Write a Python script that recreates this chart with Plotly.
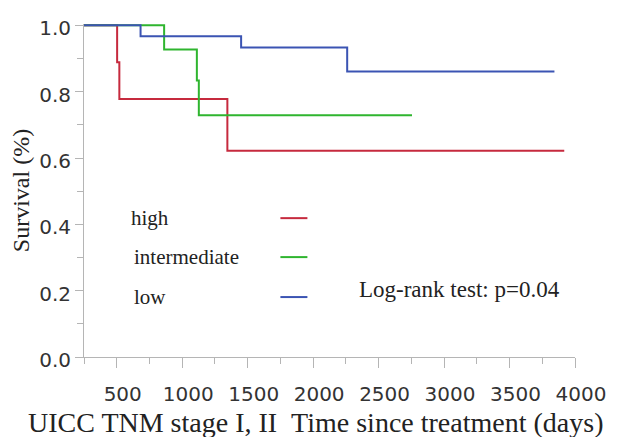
import plotly.graph_objects as go

# Kaplan-Meier step data
groups = ["high", "intermediate", "low"]
high_t = [0, 503, 520, 1345, 3918]
high_s = [1.0, 0.889, 0.778, 0.622, 0.622]
inter_t = [0, 862, 1112, 1127, 2755]
inter_s = [1.0, 0.927, 0.834, 0.729, 0.729]
low_t = [0, 682, 1450, 2260, 3843]
low_s = [1.0, 0.967, 0.933, 0.861, 0.861]
x_ticks = [500, 1000, 1500, 2000, 2500, 3000, 3500, 4000]
y_ticks = [0.0, 0.2, 0.4, 0.6, 0.8, 1.0]
colors = ["#c62a3e", "#2fb52f", "#3b54b3"]

series = [(high_t, high_s), (inter_t, inter_s), (low_t, low_s)]

fig = go.Figure()
for name, (t, s), c in zip(groups, series, colors):
    fig.add_trace(go.Scatter(x=t, y=s, mode="lines", name=name,
                             line=dict(color=c, width=2, shape="hv"),
                             showlegend=False))

serif = "Liberation Serif"
sans = "DejaVu Sans"

# custom legend: label on the left, line sample on the right
legend_y = [0.417, 0.300, 0.180]
legend_x = [0.092, 0.098, 0.098]
for name, c, ly, lx in zip(groups, colors, legend_y, legend_x):
    fig.add_annotation(x=lx, y=ly, xref="paper", yref="paper", text=name,
                       showarrow=False, xanchor="left", yanchor="middle",
                       font=dict(family=serif, size=21, color="#222"))
    fig.add_shape(type="line", xref="paper", yref="paper",
                  x0=0.40, x1=0.455, y0=ly, y1=ly,
                  line=dict(color=c, width=2))

fig.add_annotation(x=0.556, y=0.204, xref="paper", yref="paper",
                   text="Log-rank test: p=0.04", showarrow=False,
                   xanchor="left", yanchor="middle",
                   font=dict(family=serif, size=23, color="#222"))

# x-axis title (placed slightly left of the plot centre, as in the reference)
fig.add_annotation(x=0.472, y=-0.198, xref="paper", yref="paper",
                   text="UICC TNM stage I, II&nbsp;&nbsp;Time since treatment (days)",
                   showarrow=False, xanchor="center", yanchor="middle",
                   font=dict(family=serif, size=28, color="#222"))

fig.update_layout(
    width=618, height=437,
    margin=dict(l=84, r=34, t=24, b=80),
    paper_bgcolor="white", plot_bgcolor="white",
    xaxis=dict(range=[250, 4000], tickvals=x_ticks,
               ticktext=[str(v) for v in x_ticks],
               showgrid=False, zeroline=False, showline=True,
               linecolor="#b5b5b5", linewidth=1,
               ticks="outside", ticklen=10, tickcolor="#b5b5b5",
               minor=dict(dtick=250, tick0=250, ticks="outside", ticklen=6,
                          tickcolor="#b5b5b5"),
               ticklabelshift=6, ticklabelstandoff=9,
               ticklabeloverflow="allow",
               tickfont=dict(family=sans, size=20, color="#333")),
    yaxis=dict(range=[0, 1.004], tickvals=y_ticks,
               ticktext=["%.1f" % v for v in y_ticks],
               showgrid=False, zeroline=False, showline=True,
               linecolor="#b5b5b5", linewidth=1,
               ticks="outside", ticklen=8, tickcolor="#b5b5b5",
               minor=dict(dtick=0.1, ticks="outside", ticklen=6,
                          tickcolor="#b5b5b5"),
               ticklabelshift=3,
               tickfont=dict(family=sans, size=20, color="#333"),
               title=dict(text="Survival (%)",
                          font=dict(family=serif, size=24, color="#222"),
                          standoff=2)),
)

fig.write_html("out.html", config={"displayModeBar": False},
               post_script="document.body.style.margin='0px';")
